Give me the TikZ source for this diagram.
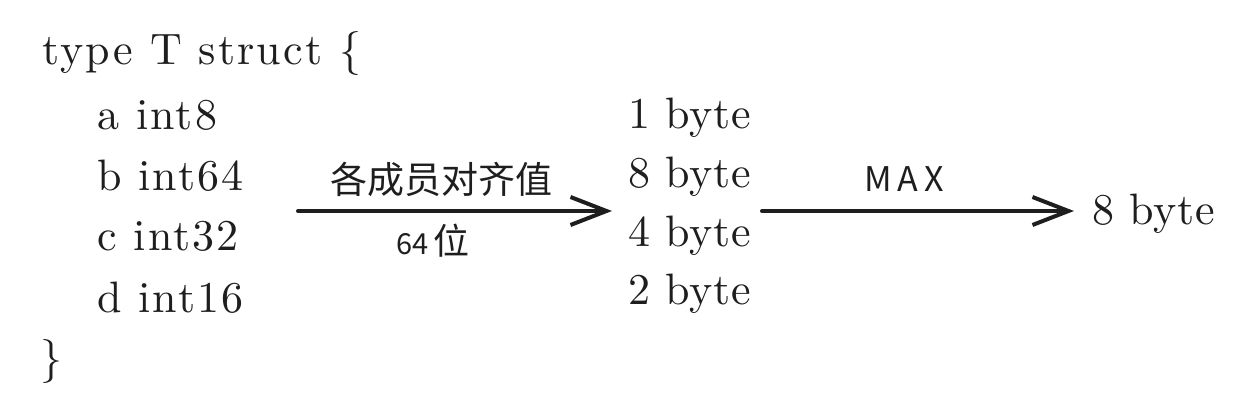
\documentclass[tikz,border=0pt]{standalone}
\usepackage{fontspec}
\newfontfamily\cjk{Noto Sans CJK SC}
\newfontfamily\codefont{lmroman10-regular.otf}[LetterSpace=5.0]
\newfontfamily\bytefont{lmroman10-regular.otf}[LetterSpace=2.0]
\usetikzlibrary{arrows.meta}
\definecolor{ink}{HTML}{1E1E1E}
\tikzset{
  code/.style={anchor=base west, inner sep=0pt, text=ink, font=\codefont\fontsize{44}{50}\selectfont},
  bytes/.style={code, font=\bytefont\fontsize{44}{50}\selectfont},
  lab/.style={inner sep=0pt, text=ink, font=\cjk\fontsize{37}{42}\selectfont},
  flow/.style={draw=ink, line width=4pt, line cap=round,
    -{Straight Barb[length=36pt,width=28pt,line width=4pt]}},
}
\begin{document}
\begin{tikzpicture}[x=1pt,y=-1pt]
\useasboundingbox (0,0) rectangle (1255,406);
\node[code] (hdr) at (42,65) {type T struct \{};
\node[code] (fa) at (97,130) {a int8};
\node[code] (fb) at (97,190) {b int64};
\node[code] (fc) at (97,250) {c int32};
\node[code] (fd) at (97,312) {d int16};
\node[code] (cl) at (40,372) {\}};
\node[bytes] (b1) at (628,129) {1 byte};
\node[bytes] (b8) at (628,188) {8 byte};
\node[bytes] (b4) at (628,246) {4 byte};
\node[bytes] (b2) at (628,304) {2 byte};
\node[bytes] (res) at (1092,225) {8 byte};
\coordinate (s1) at (298,211);
\coordinate (e1) at (612,211);
\coordinate (s2) at (762,211);
\coordinate (e2) at (1074,211);
\draw[flow] (s1) -- (e1);
\draw[flow] (s2) -- (e2);
\node[lab] (l1) at (441,179) {各成员对齐值};
\node[lab] (l2) at (433,241) {\fontsize{29}{34}\selectfont 64\,\fontsize{36}{40}\selectfont 位};
\node[lab, font=\cjk\fontsize{34}{40}\selectfont] (l3) at (904,179) {M\,A\,X};
\end{tikzpicture}
\end{document}
